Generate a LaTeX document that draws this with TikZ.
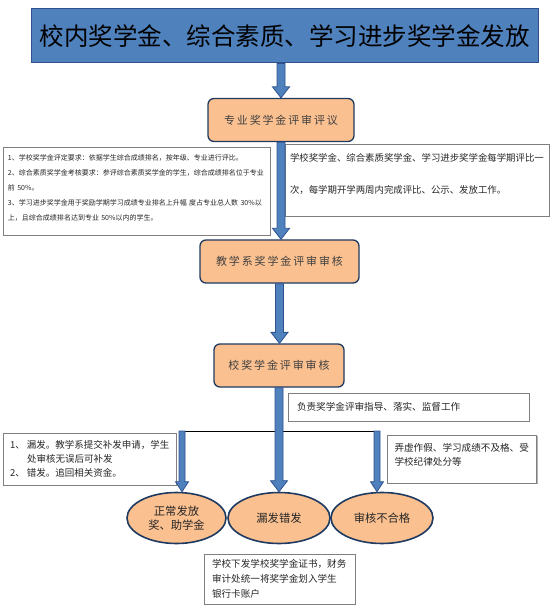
\documentclass[tikz,border=0pt]{standalone}
\usepackage{fontspec}
\setmainfont{Noto Sans CJK SC}
\usetikzlibrary{calc,shadows,shapes.geometric}
\definecolor{tblue}{HTML}{4F81BD}
\definecolor{tblueb}{HTML}{2F528F}
\definecolor{org}{HTML}{FAC090}
\definecolor{navy}{HTML}{1F3A60}
\definecolor{boxg}{HTML}{7F7F7F}
\definecolor{txt}{HTML}{262626}
\definecolor{otxt}{HTML}{404040}
\begin{document}
\begin{tikzpicture}[x=1pt,y=-1pt,
  titlebox/.style={draw=tblueb, line width=1pt, fill=tblue, minimum width=507pt, minimum height=54pt, inner sep=0pt, text=black},
  stagebox/.style={draw=navy, line width=1.3pt, fill=org, rounded corners=6pt, minimum height=43pt, inner sep=0pt, text=otxt, font=\fontsize{11}{13}\selectfont\addfontfeature{LetterSpace=17}},
  notebox/.style={draw=boxg, line width=0.9pt, fill=white, align=left, inner ysep=0pt, text=txt, drop shadow={shadow xshift=1.2pt, shadow yshift=-1.2pt, fill=gray!60, opacity=1}},
  result/.style={ellipse, draw=navy, line width=1.6pt, fill=org, inner sep=0pt, align=center, text=txt, font=\fontsize{11.3}{14}\selectfont},
  bigarrow/.style={draw=tblueb, fill=tblue, line width=0.8pt, line join=miter,
    to path={let \p1=(\tikztostart), \p2=(\tikztotarget) in
      ({\x1-4pt},{\y1}) -- ({\x1+4pt},{\y1}) -- ({\x1+4pt},{\y2+11pt}) -- ({\x1+8.5pt},{\y2+11pt}) -- ({\x1},{\y2}) -- ({\x1-8.5pt},{\y2+11pt}) -- ({\x1-4pt},{\y2+11pt}) -- cycle}},
  smallarrow/.style={draw=tblueb, fill=tblue, line width=0.8pt, line join=miter,
    to path={let \p1=(\tikztostart), \p2=(\tikztotarget) in
      ({\x1-3pt},{\y1}) -- ({\x1+3pt},{\y1}) -- ({\x1+3pt},{\y2+10pt}) -- ({\x1+6.5pt},{\y2+10pt}) -- ({\x1},{\y2}) -- ({\x1-6.5pt},{\y2+10pt}) -- ({\x1-3pt},{\y2+10pt}) -- cycle}}
]
\useasboundingbox (0,0) rectangle (554,609);

\node[titlebox] (title) at (284.5,36) {\resizebox{490pt}{!}{\fontsize{24}{28}\selectfont 校内奖学金、综合素质、学习进步奖学金发放}};

\node[stagebox, minimum width=146pt] (zy) at (281,120) {专业奖学金评审评议};
\node[stagebox, minimum width=159pt] (jx) at (279.5,261.5) {教学系奖学金评审审核};
\node[stagebox, minimum width=130pt] (xj) at (279,365.5) {校奖学金评审审核};

\node[notebox, text width=257pt, inner xsep=5pt, minimum height=88pt, font=\fontsize{7}{15}\selectfont] (req) at (136.5,191)
 {1、学校奖学金评定要求：依据学生综合成绩排名，按年级、专业进行评比。\\
  2、综合素质奖学金考核要求：参评综合素质奖学金的学生，综合成绩排名位于专业\\
  前 50\%。\\
  3、学习进步奖学金用于奖励学期学习成绩专业排名上升幅 度占专业总人数 30\%以\\
  上，且综合成绩排名达到专业 50\%以内的学生。\rule[-7pt]{0pt}{0pt}};

\node[notebox, text width=254pt, inner xsep=5pt, minimum height=72pt, font=\fontsize{9.4}{32}\selectfont] (freq) at (417,180)
 {学校奖学金、综合素质奖学金、学习进步奖学金每学期评比一\\
  次，每学期开学两周内完成评比、公示、发放工作。\rule[-12pt]{0pt}{0pt}};

\node[notebox, text width=223pt, inner xsep=9pt, minimum height=28pt, font=\fontsize{9.6}{12}\selectfont] (fz) at (408.5,407)
 {负责奖学金评审指导、落实、监督工作};

\node[notebox, text width=159pt, inner xsep=7pt, minimum height=52pt, font=\fontsize{9.5}{14}\selectfont] (lf) at (89.5,459)
 {\makebox[17pt][l]{1、}漏发。教学系提交补发申请，学生\\
  \hspace*{17pt}处审核无误后可补发\\
  \makebox[17pt][l]{2、}错发。追回相关资金。};

\node[notebox, text width=135pt, inner xsep=7pt, minimum height=48pt, font=\fontsize{9.6}{14}\selectfont] (nx) at (462,459)
 {弄虚作假、学习成绩不及格、受\\学校纪律处分等\rule[-10pt]{0pt}{0pt}};

\node[result, minimum width=99pt, minimum height=51pt] (L) at (176.5,518) {正常发放\\奖、助学金};
\node[result, minimum width=102pt, minimum height=51pt] (M) at (279,518) {漏发错发};
\node[result, minimum width=102pt, minimum height=51pt] (R) at (382,518) {审核不合格};

\node[notebox, text width=135pt, inner xsep=8pt, minimum height=50pt, font=\fontsize{9.6}{15}\selectfont] (bot) at (279.5,579)
 {学校下发学校奖学金证书，财务\\审计处统一将奖学金划入学生\\银行卡账户};

% connectors
\coordinate (jl) at (182,431);
\coordinate (jr) at (377,431);
\draw[line width=1pt, black] (jl) -- (jr);

\path[bigarrow] (title.south -| zy.north) to (zy.north);
\path[bigarrow] (zy.south) to (jx.north);
\path[bigarrow] (jx.south) to (xj.north);
\path[bigarrow] (xj.south) to (M.north);
\path[smallarrow] (jl) to (jl |- L.north);
\path[smallarrow] (jr) to (jr |- R.north);
\end{tikzpicture}
\end{document}
